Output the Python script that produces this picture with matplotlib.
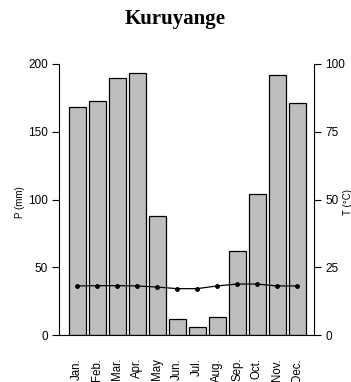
import matplotlib
matplotlib.use("Agg")
import matplotlib.pyplot as plt

plt.rcParams["font.family"] = ["Liberation Sans", "DejaVu Sans"]

months = ["Jan.", "Feb.", "Mar.", "Apr.", "May", "Jun.", "Jul.", "Aug.",
          "Sep.", "Oct.", "Nov.", "Dec."]
precip = [168, 173, 190, 193, 88, 12, 6, 13, 62, 104, 192, 171]
temp = [18.1, 18.2, 18.2, 18.1, 17.7, 17.1, 17.1, 18.1, 18.8, 18.8, 18.1, 18.1]

W, H = 351, 382
fig = plt.figure(figsize=(W / 100, H / 100), dpi=100)
ax = fig.add_axes([59 / W, 1 - 335 / H, (314 - 59) / W, (335 - 64) / H])

x = list(range(len(months)))
ax.bar(x, precip, width=0.85, color="#bebebe", edgecolor="black", linewidth=0.9)
ax.set_xlim(-0.9, 11.85)
ax.set_ylim(0, 200)
ax.set_yticks([0, 50, 100, 150, 200])
ax.tick_params(axis="y", length=5, width=0.8, labelsize=8.5, pad=3, direction="out")
ax.set_xticks(x)
ax.set_xticklabels(months, rotation=90, fontsize=8.3)
ax.tick_params(axis="x", length=0, pad=16.5)
ax.spines["top"].set_visible(False)
ax.spines["right"].set_visible(False)
for s in ("left", "bottom"):
    ax.spines[s].set_linewidth(0.8)

ax2 = ax.twinx()
ax2.plot(x, temp, color="black", linewidth=0.9, marker="o", markersize=2.5)
ax2.set_ylim(0, 100)
ax2.set_yticks([0, 25, 50, 75, 100])
ax2.tick_params(axis="y", length=5, width=0.8, labelsize=8.5, pad=3)
for s in ("top", "left", "bottom"):
    ax2.spines[s].set_visible(False)
ax2.spines["right"].set_linewidth(0.8)

fig.text(20 / W, 1 - 202 / H, "P (mm)", rotation=90, ha="center", va="center", fontsize=7)
fig.text(348 / W, 1 - 202 / H, "T (°C)", rotation=90, ha="center", va="center", fontsize=7)
fig.text(0.5, 1 - 19 / H, "Kuruyange", ha="center", va="center", fontsize=15,
         fontweight="bold", family="Liberation Serif")

fig.savefig("out.png", dpi=100)
